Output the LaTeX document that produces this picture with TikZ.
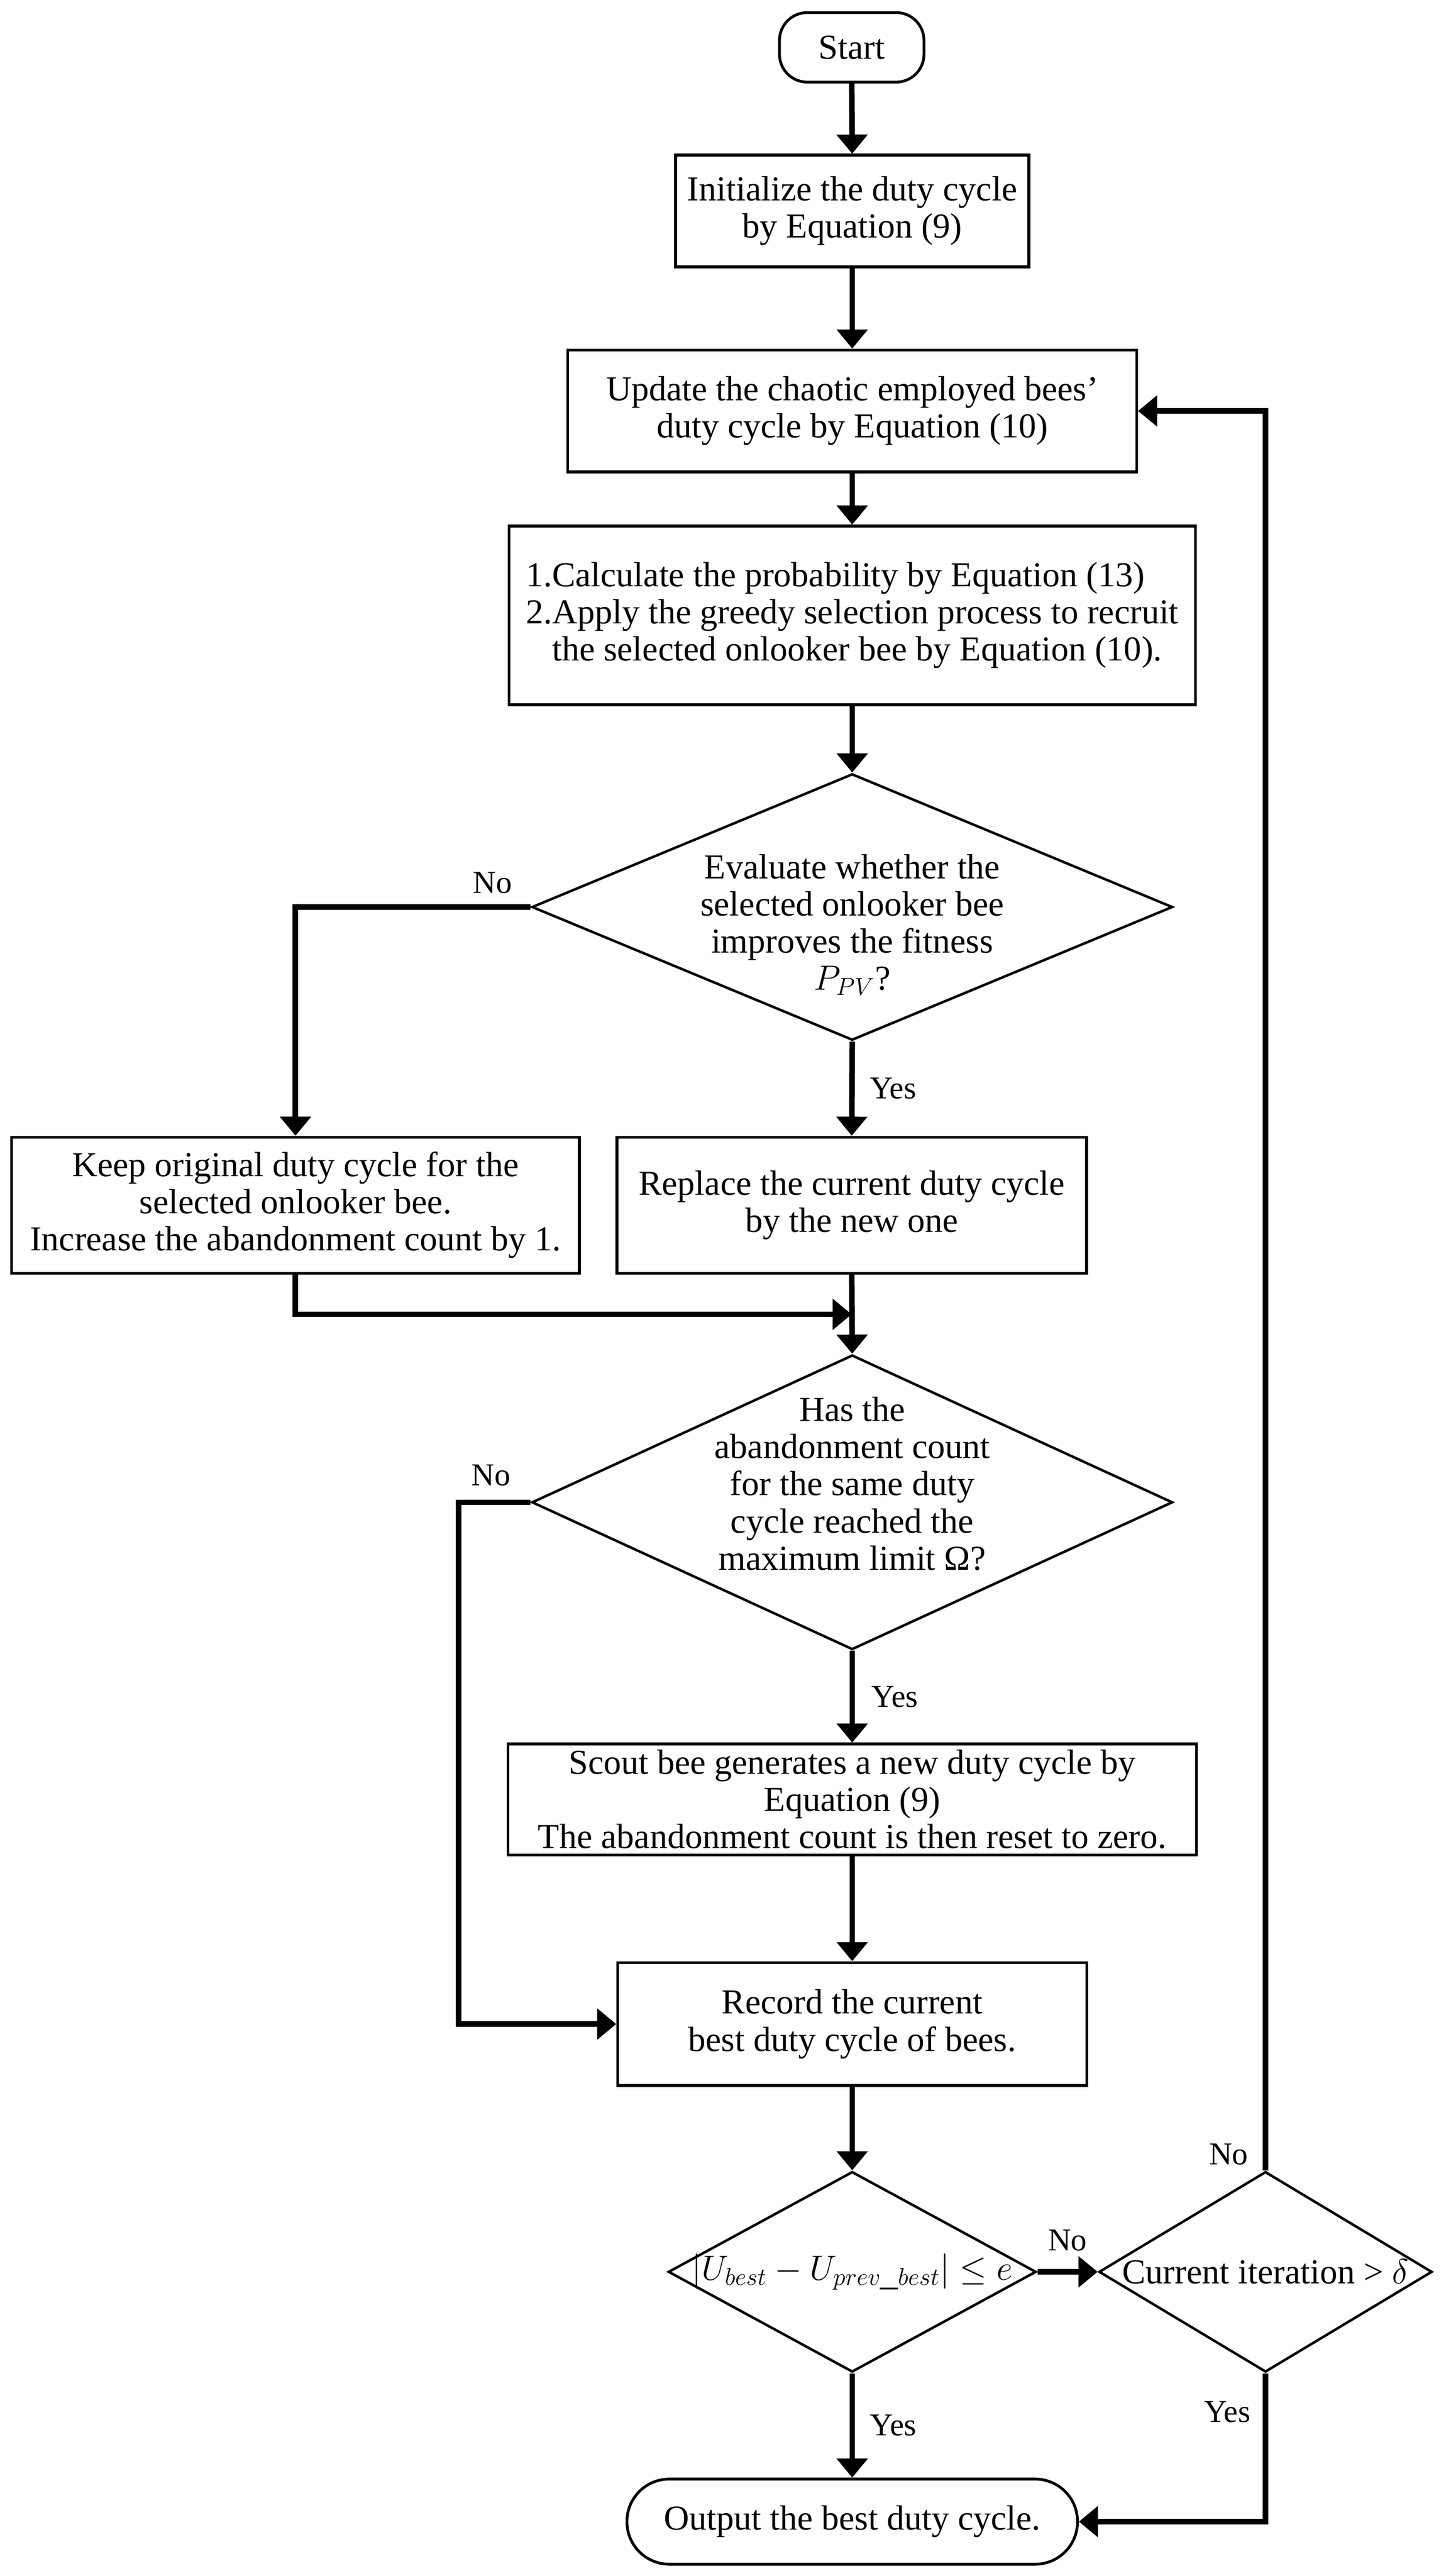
\documentclass[tikz,border=0pt]{standalone}
\usepackage{fix-cm}
\usepackage{fontspec}
\setmainfont{Liberation Serif}
\usetikzlibrary{arrows.meta,shapes.geometric,calc}
\tikzset{
  txt/.style={font=\fontsize{19.8pt}{21pt}\selectfont, align=center},
  box/.style={draw, line width=0.055cm, txt, inner sep=0pt},
  dia/.style={draw, shape=diamond, line width=0.05cm, inner sep=0pt},
  flow/.style={line width=0.11cm, -{Triangle[length=0.38cm,width=0.6cm]}},
  lbl/.style={font=\fontsize{18pt}{20pt}\selectfont, inner sep=0pt},
}
\begin{document}
\begin{tikzpicture}
\fill[white] (0,0) rectangle (28.72,-51.15);
\useasboundingbox (0,0) rectangle (28.72,-51.15);

% process nodes
\node[box, rounded corners=0.55cm, minimum width=2.87cm, minimum height=1.38cm] (start) at (16.92,-0.94) {Start};
\node[box, minimum width=7.02cm, minimum height=2.22cm] (init) at (16.93,-4.19) {Initialize the duty cycle\\by Equation (9)};
\node[box, minimum width=11.30cm, minimum height=2.42cm] (update) at (16.93,-8.16) {Update the chaotic employed bees’\\duty cycle by Equation (10)};
\node[box, align=left, minimum width=13.64cm, minimum height=3.55cm] (calc) at (16.93,-12.22) {1.Calculate the probability by Equation (13)\\2.Apply the greedy selection process to recruit\hspace*{0.42cm}\\\phantom{2.}the selected onlooker bee by Equation (10).};

\node[dia, minimum width=12.73cm, minimum height=5.29cm] (d1) at (16.93,-18.01) {};
\node[txt] (d1t) at ($(d1.center)+(0,-0.35)$) {Evaluate whether the\\selected onlooker bee\\improves the fitness\\$P_{PV}$?};

\node[box, minimum width=11.28cm, minimum height=2.70cm] (keep) at (5.87,-23.93) {Keep original duty cycle for the\\selected onlooker bee.\\Increase the abandonment count by 1.};
\node[box, minimum width=9.33cm, minimum height=2.70cm] (replace) at (16.92,-23.93) {Replace the current duty cycle\\by the new one};

\node[dia, minimum width=12.73cm, minimum height=5.85cm] (d2) at (16.93,-29.83) {};
\node[txt] (d2t) at ($(d2.center)+(0,0.37)$) {Has the\\abandonment count\\for the same duty\\cycle reached the\\maximum limit Ω?};

\node[box, minimum width=13.68cm, minimum height=2.20cm] (scout) at (16.93,-35.73) {Scout bee generates a new duty cycle by\\Equation (9)\\The abandonment count is then reset to zero.};
\node[box, minimum width=9.32cm, minimum height=2.44cm] (record) at (16.93,-40.19) {Record the current\\best duty cycle of bees.};

\node[dia, minimum width=7.31cm, minimum height=3.98cm] (d3) at (16.93,-45.11) {};
\node[txt] (d3t) at (d3.center) {$\left|U_{best}-U_{prev\_best}\right|\leq e$};
\node[dia, minimum width=6.62cm, minimum height=3.98cm] (d4) at (25.14,-45.11) {};
\node[txt] (d4t) at (d4.center) {Current iteration > $\delta$};

\node[box, rounded corners=0.84cm, minimum width=8.95cm, minimum height=1.69cm] (out) at (16.93,-50.07) {Output the best duty cycle.};

% connectors
\draw[flow] (start.south) -- (init.north);
\draw[flow] (init.south) -- (update.north);
\draw[flow] (update.south) -- (calc.north);
\draw[flow] (calc.south) -- (d1.north);
\draw[flow] (d1.west) -| (keep.north);
\node[lbl, anchor=base east] (no1) at ($(d1.west)+(-0.36,0.28)$) {No};
\draw[flow] (d1.south) -- node[lbl, anchor=west, xshift=0.3cm] (yes1) {Yes} (replace.north);
\coordinate (j1) at ($(replace.south)+(0,-0.79)$);
\draw[flow] (keep.south) |- (j1);
\draw[flow] (replace.south) -- (d2.north);
\draw[flow] (d2.west) -- ++(-1.43,0) |- (record.west);
\node[lbl, anchor=base east] (no2) at ($(d2.west)+(-0.39,0.33)$) {No};
\draw[flow] (d2.south) -- node[lbl, anchor=west, xshift=0.33cm] (yes2) {Yes} (scout.north);
\draw[flow] (scout.south) -- (record.north);
\draw[flow] (record.south) -- (d3.north);
\draw[flow] (d3.east) -- node[lbl, above=0.36cm] (no3) {No} (d4.west);
\draw[flow] (d4.north) |- (update.east);
\node[lbl, anchor=base east] (no4) at ($(d4.north)+(-0.34,0.11)$) {No};
\draw[flow] (d3.south) -- node[lbl, anchor=west, xshift=0.3cm] (yes3) {Yes} (out.north);
\draw[flow] (d4.south) |- (out.east);
\node[lbl, anchor=base east] (yes4) at ($(d4.south)+(-0.29,-0.97)$) {Yes};
\end{tikzpicture}
\end{document}
